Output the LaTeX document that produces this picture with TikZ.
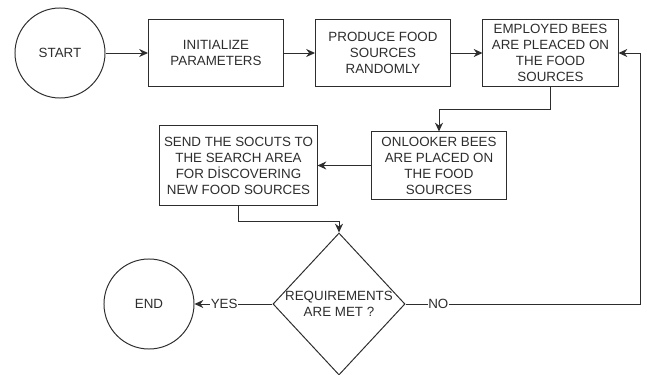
\documentclass[tikz,border=0pt]{standalone}
\usepackage{fontspec}
\setmainfont{Liberation Sans}
\usetikzlibrary{shapes.geometric,arrows.meta}
\definecolor{inkgray}{RGB}{45,45,45}
\tikzset{
    flowbox/.style={draw=inkgray,text=inkgray,line width=0.7pt,align=center,
        minimum width=3.375cm,minimum height=1.675cm,inner sep=1pt,
        font=\fontsize{9.5}{11.4}\selectfont},
    endpoint/.style={flowbox,circle,minimum size=2.25cm},
    decision/.style={flowbox,diamond,inner sep=-2pt,minimum width=3.3cm,minimum height=3.55cm},
    flowline/.style={draw=inkgray,line width=0.7pt,-{Stealth[length=0.22cm,width=0.2cm]}},
    branch/.style={fill=white,text=inkgray,inner sep=0.5pt,font=\fontsize{9.5}{11.4}\selectfont}
}
\begin{document}
\begin{tikzpicture}[x=0.025cm,y=-0.025cm]
\useasboundingbox (0,0) rectangle (647,375);
\node[endpoint] (start) at (60,53) {START};
\node[flowbox] (init) at (216,53) {INITIALIZE\\PARAMETERS};
\node[flowbox] (produce) at (383,53) {PRODUCE FOOD\\SOURCES\\RANDOMLY};
\node[flowbox] (employed) at (550.5,53) {EMPLOYED BEES\\ARE PLEACED ON\\THE FOOD\\SOURCES};
\node[flowbox,minimum width=3.35cm] (onlooker) at (439,165.5) {ONLOOKER BEES\\ARE PLACED ON\\THE FOOD\\SOURCES};
\node[flowbox,minimum width=3.925cm,minimum height=1.975cm] (send) at (238.5,165.5)
    {SEND THE SOCUTS TO\\THE SEARCH AREA\\FOR DİSCOVERING\\NEW FOOD SOURCES};
\node[decision] (req) at (339,304) {REQUIREMENTS\\ARE MET ?};
\node[endpoint] (end) at (149,304) {END};
\coordinate (back) at (640,304);

\foreach \a/\b in {start/init,init/produce,produce/employed,onlooker/send}
{
    \draw[flowline] (\a) -- (\b);
}
\draw[flowline] (employed.south) -- ++(0,22) -| (onlooker.north);
\draw[flowline] (send.south) -- ++(0,15.5) -| (req.north);
\draw[flowline] (req.west) -- node[branch,pos=0.62]{YES} (end.east);
\draw[flowline] (req.east) -- node[branch,pos=0.14]{NO} (back) |- (employed.east);
\end{tikzpicture}
\end{document}
